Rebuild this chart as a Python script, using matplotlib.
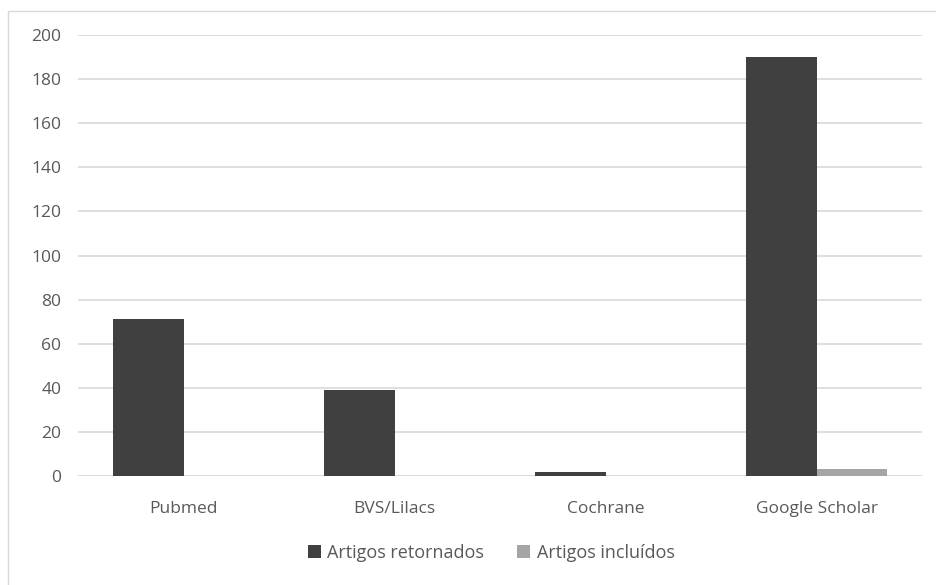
import matplotlib
matplotlib.use("Agg")
import matplotlib.pyplot as plt
import numpy as np
from matplotlib.patches import Rectangle

categories = ["Pubmed", "BVS/Lilacs", "Cochrane", "Google Scholar"]
retornados = [71, 39, 2, 190]
incluidos = [0, 0, 0, 3]
series_names = ["Artigos retornados", "Artigos incluídos"]
y_ticks = [0, 20, 40, 60, 80, 100, 120, 140, 160, 180, 200]

plt.rcParams["font.family"] = ["Open Sans", "DejaVu Sans"]

W, H = 936, 585
fig = plt.figure(figsize=(W / 100, H / 100), dpi=100)
fig.patches.append(Rectangle((8 / W, -0.1), 1.2, 1.1 - 11 / H, transform=fig.transFigure,
                             fill=False, edgecolor="#d9d9d9", lw=1))

ax = fig.add_axes([78 / W, 1 - 476 / H, (922 - 78) / W, (476 - 35) / H])
x = np.arange(len(categories))
width = 0.335
ax.bar(x - width / 2, retornados, width, color="#404040", label=series_names[0], zorder=3)
ax.bar(x + width / 2, incluidos, width, color="#a5a5a5", label=series_names[1], zorder=3)

ax.set_xlim(-0.5, len(categories) - 0.5)
ax.set_ylim(0, 200)
ax.set_yticks(y_ticks)
ax.set_xticks(x)
ax.set_xticklabels(categories)
ax.yaxis.grid(True, color="#d9d9d9", lw=1.2, zorder=0)
for s in ax.spines.values():
    s.set_visible(False)
ax.axhline(0, color="#d9d9d9", lw=1.2, zorder=2)
ax.tick_params(length=0, labelsize=12.5, colors="#595959")
ax.tick_params(axis="x", pad=18)
ax.tick_params(axis="y", pad=12)

fig.legend(loc="center", bbox_to_anchor=(491 / W, 1 - 553 / H), ncol=2, frameon=False,
           fontsize=13, labelcolor="#595959", handlelength=0.75, handleheight=0.75,
           handletextpad=0.35, columnspacing=1.8)

fig.savefig("out.png", dpi=100)
